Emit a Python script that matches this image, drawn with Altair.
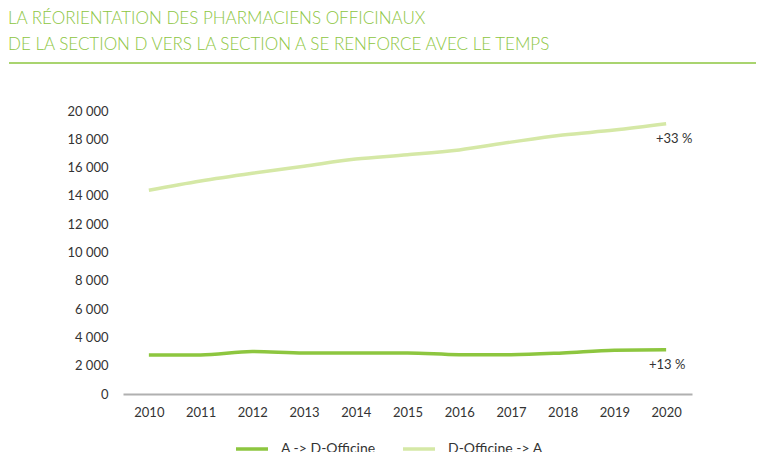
import altair as alt
import pandas as pd

years = ["2010", "2011", "2012", "2013", "2014", "2015", "2016", "2017", "2018", "2019", "2020"]
a_to_d = [2760, 2760, 3000, 2900, 2900, 2900, 2780, 2780, 2900, 3100, 3120]
d_to_a = [14400, 15050, 15600, 16100, 16600, 16900, 17250, 17800, 18300, 18650, 19100]
series = ["A -> D-Officine", "D-Officine -> A"]
colors = ["#8dc63f", "#d5e8a6"]
end_labels = ["+13 %", "+33 %"]
title_lines = ["LA RÉORIENTATION DES PHARMACIENS OFFICINAUX",
               "DE LA SECTION D VERS LA SECTION A SE RENFORCE AVEC LE TEMPS"]

rows = []
for y, a, d in zip(years, a_to_d, d_to_a):
    rows.append({"year": y, "value": a, "series": series[0]})
    rows.append({"year": y, "value": d, "series": series[1]})
df = pd.DataFrame(rows)

FONT = "Lato"
xenc = alt.X("year:O", title=None,
             scale=alt.Scale(type="point", padding=0.5),
             axis=alt.Axis(labelAngle=0, ticks=False, domainColor="#b0b0b0", domainWidth=2,
                           labelPadding=12, labelFontSize=13, labelColor="#333333", labelFont=FONT))
yenc = alt.Y("value:Q", title=None,
             scale=alt.Scale(domain=[0, 20000]),
             axis=alt.Axis(values=list(range(0, 20001, 2000)), grid=False, domain=False, ticks=False,
                           labelOverlap=False, labelBound=False,
                           labelPadding=15, labelFontSize=13, labelColor="#333333", labelFont=FONT,
                           labelExpr="replace(format(datum.value, ','), ',', ' ')"))

lines = alt.Chart(df).mark_line(strokeWidth=3.5, interpolate="monotone").encode(
    x=xenc, y=yenc,
    color=alt.Color("series:N", scale=alt.Scale(domain=series, range=colors),
                    legend=alt.Legend(title=None, orient="none", direction="horizontal",
                                      legendX=111, legendY=320, symbolType="stroke",
                                      symbolStrokeWidth=3.5, symbolSize=1024, columnPadding=20,
                                      labelFontSize=14, labelColor="#333333", labelFont=FONT,
                                      labelOffset=11))
)

lab_df = pd.DataFrame({"year": [years[-1], years[-1]], "value": [a_to_d[-1], d_to_a[-1]],
                       "label": end_labels})
lab13 = alt.Chart(lab_df.iloc[[0]]).mark_text(dx=1, dy=15, fontSize=13, color="#333333", font=FONT).encode(
    x=xenc, y=yenc, text="label:N")
lab33 = alt.Chart(lab_df.iloc[[1]]).mark_text(dx=8, dy=15, fontSize=13, color="#333333", font=FONT).encode(
    x=xenc, y=yenc, text="label:N")

tdf = pd.DataFrame({"t": title_lines, "ypos": [-92, -66]})
titles = alt.Chart(tdf).mark_text(align="left", baseline="middle", fontSize=17, color="#8dc63f",
                                  font=FONT, fontWeight=300).encode(
    x=alt.value(-115), y=alt.Y("ypos:Q", scale=None), text="t:N")

rule = alt.Chart(pd.DataFrame({"a": [0]})).mark_rule(color="#8dc63f", strokeWidth=1.5).encode(
    x=alt.value(-114), x2=alt.value(641), y=alt.value(-48))

chart = alt.layer(lines, lab13, lab33, titles, rule).properties(
    width=569, height=283,
    autosize=alt.AutoSizeParams(type="none"),
    padding={"left": 115, "top": 103, "right": 64, "bottom": 58},
).configure_view(stroke=None).configure_axis(labelFont=FONT)

chart.save("out.html", embed_options={"renderer": "svg", "actions": False})
